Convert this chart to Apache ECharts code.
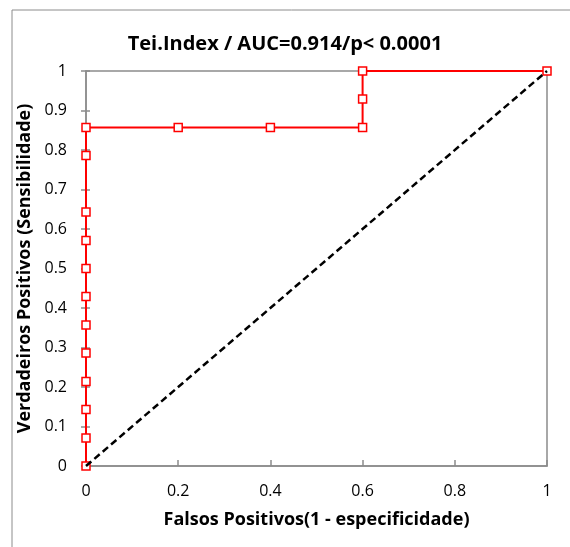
<!DOCTYPE html>
<html><head><meta charset="utf-8">
<script src="https://cdn.jsdelivr.net/npm/echarts@6/dist/echarts.min.js"></script>
<style>html,body{margin:0;padding:0;background:#fff}#c{width:570px;height:547px}</style>
</head><body><div id="c"></div>
<script>
var fpr = [0, 0, 0, 0, 0, 0, 0, 0, 0, 0, 0, 0, 0.2, 0.4, 0.6, 0.6, 0.6, 1];
var tpr = [0, 0.071, 0.143, 0.214, 0.286, 0.357, 0.429, 0.5, 0.571, 0.643, 0.786, 0.857, 0.857, 0.857, 0.857, 0.929, 1, 1];
var refX = [0, 1];
var refY = [0, 1];
var titleText = 'Tei.Index / AUC=0.914/p< 0.0001';
var xName = 'Falsos Positivos(1 - especificidade)';
var yName = 'Verdadeiros Positivos (Sensibilidade)';

var roc = fpr.map(function (x, i) { return [x, tpr[i]]; });
var diag = refX.map(function (x, i) { return [x, refY[i]]; });
var font = '"Open Sans", "Liberation Sans", sans-serif';
var axisGray = '#8c8c8c';

var chart = echarts.init(document.getElementById('c'));
chart.setOption({
  animation: false,
  textStyle: { fontFamily: font },
  title: {
    text: titleText, left: 'center', top: 29,
    textStyle: { fontFamily: font, fontSize: 20, fontWeight: 'bold', color: '#000' }
  },
  graphic: [{
    type: 'rect', shape: { x: 12, y: 10, width: 600, height: 600 },
    style: { fill: 'none', stroke: '#8c8c8c', lineWidth: 1 }, silent: true, z: -10
  }],
  grid: { left: 86, right: 23, top: 71, bottom: 81, show: true, borderColor: axisGray, borderWidth: 1.5 },
  xAxis: [{
    type: 'value', min: 0, max: 1, interval: 0.2,
    name: xName, nameLocation: 'middle', nameGap: 45,
    nameTextStyle: { fontFamily: font, fontSize: 18, fontWeight: 'bold', color: '#000' },
    axisLine: { lineStyle: { color: axisGray, width: 1.5 } },
    axisTick: { show: true, inside: true, length: 6, lineStyle: { color: axisGray, width: 1.5 } },
    axisLabel: { fontFamily: font, fontSize: 16, color: '#000', margin: 17 },
    splitLine: { show: false }
  }],
  yAxis: [{
    type: 'value', min: 0, max: 1, interval: 0.1,
    name: yName, nameLocation: 'middle', nameGap: 39,
    nameTextStyle: { fontFamily: font, fontSize: 18, fontWeight: 'bold', color: '#000' },
    axisLine: { lineStyle: { color: axisGray, width: 1.5 } },
    axisTick: { show: true, inside: false, length: 5, lineStyle: { color: axisGray, width: 1.5 } },
    axisLabel: { fontFamily: font, fontSize: 16, color: '#000', margin: 19 },
    splitLine: { show: false }
  }, {
    type: 'value', min: 0, max: 1, interval: 0.1, position: 'left',
    axisLine: { show: false },
    axisTick: { show: true, inside: true, length: 4, lineStyle: { color: axisGray, width: 1.5 } },
    axisLabel: { show: false }, splitLine: { show: false }
  }],
  series: [{
    type: 'line', data: roc, yAxisIndex: 0,
    lineStyle: { color: '#ff0000', width: 2 },
    symbol: 'rect', symbolSize: 8, showAllSymbol: true,
    itemStyle: { color: '#ffffff', borderColor: '#ff0000', borderWidth: 1.5 },
    z: 3
  }, {
    type: 'line', data: diag, yAxisIndex: 0,
    lineStyle: { color: '#000000', width: 2.5, type: [7, 4] },
    symbol: 'none', z: 4
  }]
});
</script></body></html>
